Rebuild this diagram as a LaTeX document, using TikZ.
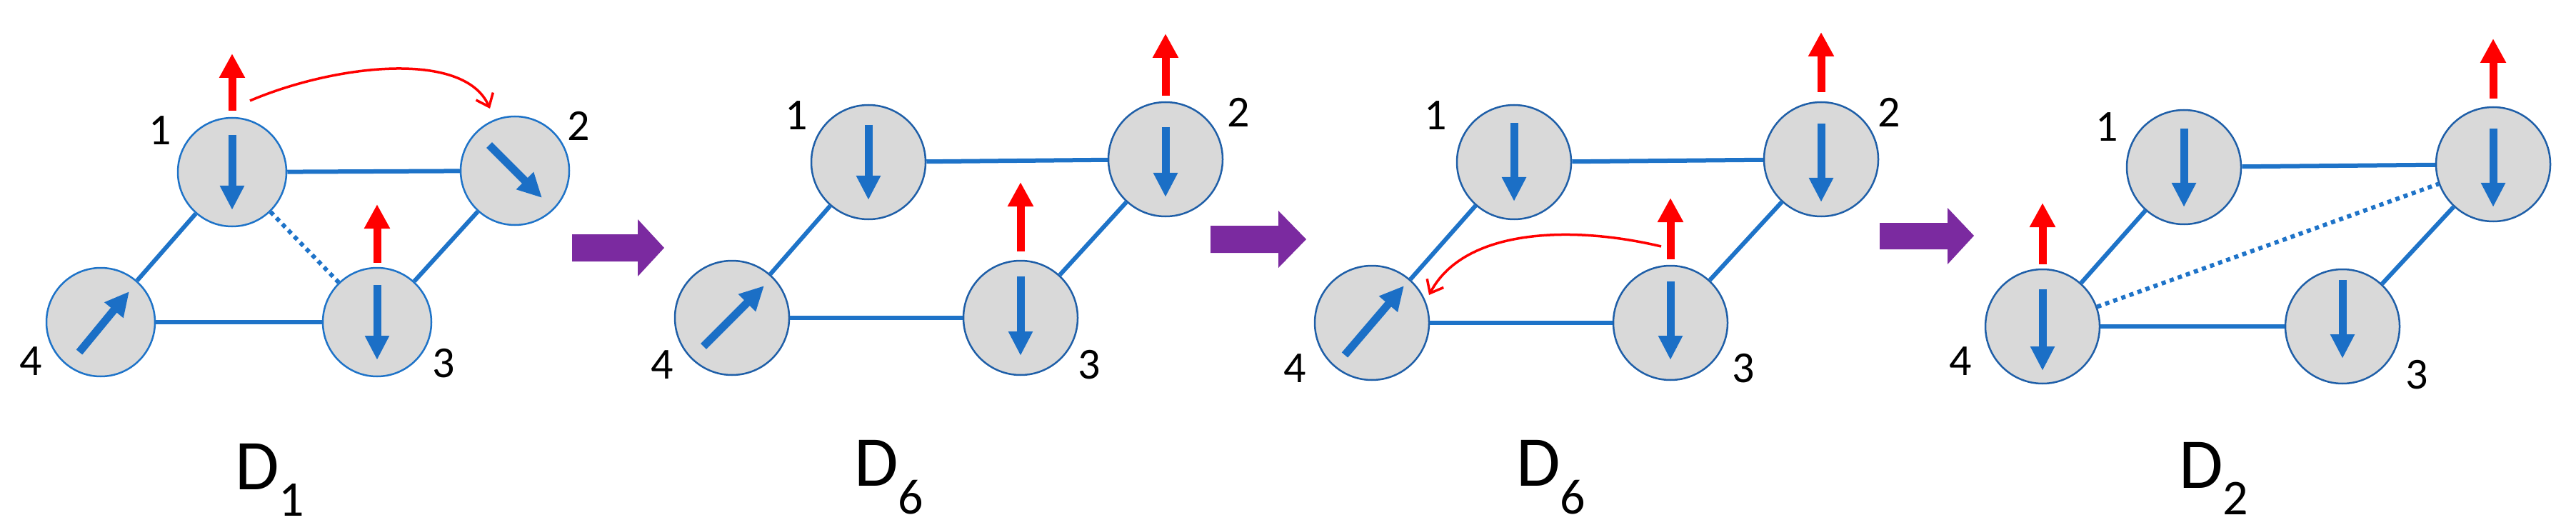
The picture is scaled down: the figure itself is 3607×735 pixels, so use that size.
\documentclass[tikz,border=0pt]{standalone}
\usepackage{fontspec}
\setmainfont{Carlito}
\usetikzlibrary{arrows.meta}
\definecolor{eblue}{HTML}{1E73C8}
\definecolor{rblue}{HTML}{1F5FA8}
\definecolor{spin}{HTML}{1B6FC6}
\definecolor{ngray}{HTML}{D9D9D9}
\definecolor{purp}{HTML}{7B2AA0}
\begin{document}
\begin{tikzpicture}[x=1pt,y=-1pt,
  site/.style={circle,draw=rblue,line width=2.5pt,fill=ngray,minimum size=160pt,inner sep=0pt},
  siteA/.style={site,draw=eblue,minimum size=152pt},
  bond/.style={draw=eblue,line width=6pt},
  dbond/.style={draw=eblue,line width=6pt,dash pattern=on 6pt off 6pt},
  spinarr/.style={draw=spin,line width=11pt,-{Triangle[length=34pt,width=32pt]}},
  redarr/.style={draw=red,line width=11pt,-{Triangle[length=34pt,width=34pt]}},
  hop/.style={draw=red,line width=3.5pt,-{Straight Barb[length=16pt,width=26pt]}},
  num/.style={font=\fontsize{62}{62}\selectfont,inner sep=0pt},
  dlab/.style={font=\fontsize{100}{100}\selectfont,inner sep=0pt},
  big/.style={fill=purp,draw=none}]
\useasboundingbox (0,0) rectangle (3607,735);
% ---------- panel 1
\node[siteA] (a1) at (325,241) {};
\node[siteA] (a2) at (721,239) {};
\node[siteA] (a3) at (528,451) {};
\node[siteA] (a4) at (141,451) {};
\draw[bond] (a1) -- (a2); \draw[bond] (a1) -- (a4);
\draw[bond] (a2) -- (a3); \draw[bond] (a3) -- (a4);
\draw[dbond] (a1) -- (a3);
\draw[spinarr] ([yshift=52pt]a1.center) -- ([yshift=-53pt]a1.center);
\draw[spinarr] ([shift={(-36pt,36pt)}]a2.center) -- ([shift={(38pt,-38pt)}]a2.center);
\draw[spinarr] ([yshift=52pt]a3.center) -- ([yshift=-53pt]a3.center);
\draw[spinarr] ([shift={(-30pt,-42pt)}]a4.center) -- ([shift={(40pt,43pt)}]a4.center);
\coordinate (ra1) at (325,155); \coordinate (ra1t) at (325,75);
\draw[redarr] (ra1) -- (ra1t);
\coordinate (ra3) at (528,368); \coordinate (ra3t) at (528,286);
\draw[redarr] (ra3) -- (ra3t);
\coordinate (h1s) at (350,141); \coordinate (h1e) at (686,152);
\draw[hop] (h1s) .. controls (470,90) and (650,70) .. (h1e);
\node[num] (la1) at (224,183) {1};
\node[num] (la2) at (810,176) {2};
\node[num] (la3) at (621,509) {3};
\node[num] (la4) at (43,506) {4};
\node[dlab] (da) at (378,672) {D\textsubscript{1}};
% big arrow 1
\fill[big] (801,328) -- (893,328) -- (893,307) -- (930,347) -- (893,387) -- (893,366) -- (801,366) -- cycle;
% ---------- panel 2
\node[site] (b1) at (1216,227) {};
\node[site] (b2) at (1632,223) {};
\node[site] (b3) at (1429,445) {};
\node[site] (b4) at (1025,445) {};
\draw[bond] (b1) -- (b2); \draw[bond] (b1) -- (b4);
\draw[bond] (b2) -- (b3); \draw[bond] (b3) -- (b4);
\draw[spinarr] ([yshift=52pt]b1.center) -- ([yshift=-53pt]b1.center);
\draw[spinarr] ([yshift=45pt]b2.center) -- ([yshift=-53pt]b2.center);
\draw[spinarr] ([yshift=58pt]b3.center) -- ([yshift=-53pt]b3.center);
\draw[spinarr] ([shift={(-40pt,-40pt)}]b4.center) -- ([shift={(45pt,45pt)}]b4.center);
\coordinate (rb2) at (1632,134); \coordinate (rb2t) at (1632,47);
\draw[redarr] (rb2) -- (rb2t);
\coordinate (rb3) at (1429,352); \coordinate (rb3t) at (1429,255);
\draw[redarr] (rb3) -- (rb3t);
\node[num] (lb1) at (1115,162) {1};
\node[num] (lb2) at (1734,157) {2};
\node[num] (lb3) at (1525,511) {3};
\node[num] (lb4) at (927,511) {4};
\node[dlab] (db) at (1245,668) {D\textsubscript{6}};
% big arrow 2
\fill[big] (1695,316) -- (1790,316) -- (1790,295) -- (1829,335) -- (1790,375) -- (1790,354) -- (1695,354) -- cycle;
% ---------- panel 3
\node[site] (c1) at (2120,227) {};
\node[site] (c2) at (2550,223) {};
\node[site] (c3) at (2339,452) {};
\node[site] (c4) at (1921,452) {};
\draw[bond] (c1) -- (c2); \draw[bond] (c1) -- (c4);
\draw[bond] (c2) -- (c3); \draw[bond] (c3) -- (c4);
\draw[spinarr] ([yshift=55pt]c1.center) -- ([yshift=-55pt]c1.center);
\draw[spinarr] ([yshift=50pt]c2.center) -- ([yshift=-60pt]c2.center);
\draw[spinarr] ([yshift=58pt]c3.center) -- ([yshift=-52pt]c3.center);
\draw[spinarr] ([shift={(-38pt,-45pt)}]c4.center) -- ([shift={(45pt,52pt)}]c4.center);
\coordinate (rc2) at (2550,129); \coordinate (rc2t) at (2550,45);
\draw[redarr] (rc2) -- (rc2t);
\coordinate (rc3) at (2339,363); \coordinate (rc3t) at (2339,277);
\draw[redarr] (rc3) -- (rc3t);
\coordinate (h2s) at (2326,345); \coordinate (h2e) at (2001,413);
\draw[hop] (h2s) .. controls (2200,315) and (2050,320) .. (h2e);
\node[num] (lc1) at (2010,162) {1};
\node[num] (lc2) at (2645,157) {2};
\node[num] (lc3) at (2441,516) {3};
\node[num] (lc4) at (1813,516) {4};
\node[dlab] (dc) at (2172,668) {D\textsubscript{6}};
% big arrow 3
\fill[big] (2632,312) -- (2727,312) -- (2727,291) -- (2764,330) -- (2727,370) -- (2727,349) -- (2632,349) -- cycle;
% ---------- panel 4
\node[site] (d1) at (3058,234) {};
\node[site] (d2) at (3491,230) {};
\node[site] (d3) at (3280,457) {};
\node[site] (d4) at (2860,457) {};
\draw[bond] (d1) -- (d2); \draw[bond] (d1) -- (d4);
\draw[bond] (d2) -- (d3); \draw[bond] (d3) -- (d4);
\draw[dbond] (d4) -- (d2);
\draw[spinarr] ([yshift=54pt]d1.center) -- ([yshift=-56pt]d1.center);
\draw[spinarr] ([yshift=50pt]d2.center) -- ([yshift=-60pt]d2.center);
\draw[spinarr] ([yshift=65pt]d3.center) -- ([yshift=-45pt]d3.center);
\draw[spinarr] ([yshift=52pt]d4.center) -- ([yshift=-62pt]d4.center);
\coordinate (rd2) at (3491,138); \coordinate (rd2t) at (3491,54);
\draw[redarr] (rd2) -- (rd2t);
\coordinate (rd4) at (2860,370); \coordinate (rd4t) at (2860,284);
\draw[redarr] (rd4) -- (rd4t);
\node[num] (ld1) at (2950,178) {1};
\node[num] (ld3) at (3384,525) {3};
\node[num] (ld4) at (2745,506) {4};
\node[dlab] (dd) at (3100,670) {D\textsubscript{2}};
\end{tikzpicture}
\end{document}
